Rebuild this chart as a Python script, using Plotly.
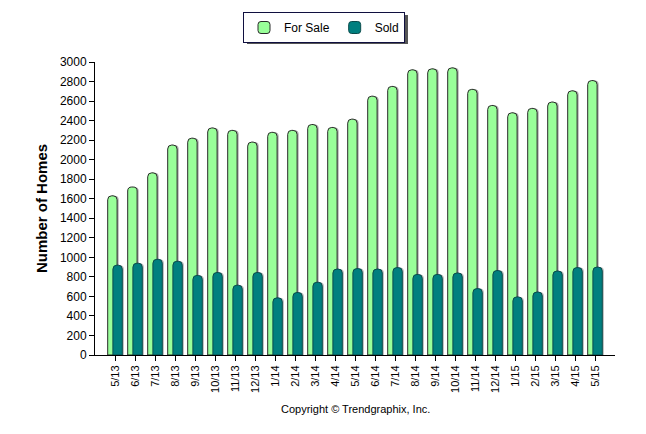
import plotly.graph_objects as go

months = ["5/13", "6/13", "7/13", "8/13", "9/13", "10/13", "11/13", "12/13",
          "1/14", "2/14", "3/14", "4/14", "5/14", "6/14", "7/14", "8/14",
          "9/14", "10/14", "11/14", "12/14", "1/15", "2/15", "3/15", "4/15", "5/15"]
for_sale = [1630, 1720, 1865, 2150, 2220, 2325, 2300, 2180,
            2280, 2300, 2360, 2330, 2415, 2650, 2750, 2920,
            2930, 2940, 2720, 2555, 2480, 2525, 2590, 2705, 2810]
sold = [920, 940, 980, 960, 815, 845, 715, 845,
        585, 640, 745, 880, 885, 880, 895, 825,
        825, 840, 680, 865, 595, 645, 860, 895, 900]
y_ticks = list(range(0, 3001, 200))

# plot area in reference pixels: x 95..615, y 62..355 (page has 8px body offset)
PX0, PX1, PY0, PY1 = 95, 615, 62, 355
def px(x):
    return (x - PX0) / (PX1 - PX0)
def py(y):
    return (PY1 - y) / (PY1 - PY0)

W = 0.47
fig = go.Figure()
fig.add_trace(go.Bar(x=months, y=for_sale, offset=-0.365 + 0.08, width=W,
                     marker=dict(color="rgba(110,110,110,0.55)", line=dict(width=0)),
                     showlegend=False, hoverinfo="skip"))
fig.add_trace(go.Bar(x=months, y=for_sale, offset=-0.365, width=W, name="For Sale",
                     marker=dict(color="#99FF99", line=dict(color="#2a2a2a", width=1))))
fig.add_trace(go.Bar(x=months, y=sold, offset=-0.105 + 0.08, width=W,
                     marker=dict(color="rgba(110,110,110,0.45)", line=dict(width=0)),
                     showlegend=False, hoverinfo="skip"))
fig.add_trace(go.Bar(x=months, y=sold, offset=-0.105, width=W, name="Sold",
                     marker=dict(color="#007F7F", line=dict(color="#0a4a4a", width=1))))

fig.update_layout(
    width=646, height=434,
    margin=dict(l=PX0 - 8, r=646 - (PX1 - 8), t=PY0 - 8, b=434 - (PY1 - 8),
                autoexpand=False),
    paper_bgcolor="white", plot_bgcolor="white",
    barmode="overlay", barcornerradius=4,
    font=dict(family="Liberation Sans, Arial, sans-serif", size=12, color="black"),
    showlegend=True,
    legend=dict(orientation="h", x=px(324), xanchor="center",
                y=py(12), yanchor="top",
                bordercolor="#101040", borderwidth=1, bgcolor="white",
                font=dict(size=12), itemwidth=30, traceorder="normal"),
    xaxis=dict(type="category", range=[-1, 25], showline=True, linecolor="black",
               linewidth=1, ticks="outside", ticklen=5, tickcolor="black",
               tickangle=-90, tickfont=dict(size=11), showgrid=False, zeroline=False,
               automargin=False),
    yaxis=dict(range=[0, 3000], tickvals=y_ticks, showline=True, linecolor="black",
               linewidth=1, ticks="outside", ticklen=5, tickcolor="black",
               showgrid=False, zeroline=False, tickfont=dict(size=12), automargin=False,
               title=dict(text="Number of Homes", font=dict(size=15, weight="bold"),
                          standoff=8)),
    annotations=[dict(text="Copyright © Trendgraphix, Inc.", xref="paper", yref="paper",
                      x=px(355), y=py(409), xanchor="center",
                      yanchor="middle", showarrow=False, font=dict(size=11))],
    shapes=[dict(type="rect", xref="paper", yref="paper",
                 x0=px(247), x1=px(408), y0=py(44), y1=py(15),
                 fillcolor="#555", line=dict(width=0), layer="below")],
)
fig.write_html("out.html")
